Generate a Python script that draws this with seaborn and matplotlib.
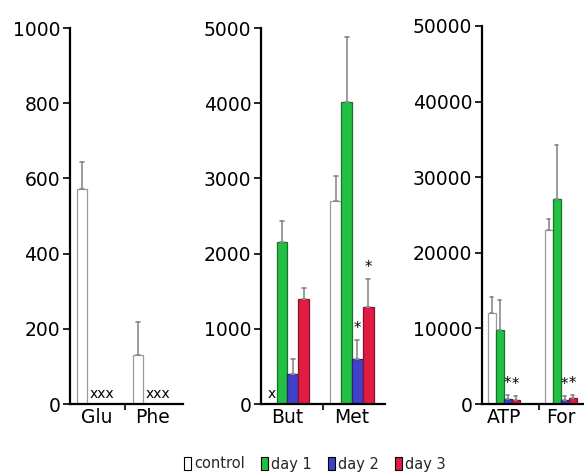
import numpy as np
import pandas as pd
import matplotlib
matplotlib.use("Agg")
import matplotlib.pyplot as plt
import seaborn as sns
from matplotlib.patches import Patch
from matplotlib.colors import to_rgb

sns.set_style("ticks")
plt.rcParams["font.family"] = ["DejaVu Sans"]

# ---------------- data ----------------
groups = ["control", "day 1", "day 2", "day 3"]
colors = ["#ffffff", "#22c043", "#4040c8", "#e01c44"]

cats_aa = ["Glu", "Phe"]
mean_aa = [[572, np.nan, np.nan, np.nan], [131, np.nan, np.nan, np.nan]]
upper_aa = [[643, np.nan, np.nan, np.nan], [217, np.nan, np.nan, np.nan]]

cats_bm = ["But", "Met"]
mean_bm = [[np.nan, 2157, 399, 1395], [2698, 4017, 602, 1289]]
upper_bm = [[np.nan, 2440, 598, 1541], [3038, 4885, 854, 1665]]

cats_af = ["ATP", "For"]
mean_af = [[12100, 9850, 700, 570], [22950, 27100, 550, 740]]
upper_af = [[14200, 13700, 1230, 1000], [24500, 34300, 1100, 1230]]

yticks_aa = [0, 200, 400, 600, 800, 1000]
yticks_bm = [0, 1000, 2000, 3000, 4000, 5000]
yticks_af = [0, 10000, 20000, 30000, 40000, 50000]

stars_bm = [("Met", "day 2"), ("Met", "day 3")]
stars_af = [("ATP", "day 2"), ("ATP", "day 3"), ("For", "day 2"), ("For", "day 3")]

palette = dict(zip(groups, colors))

# ---------------- layout (pixels) ----------------
W, H = 584, 475
fig = plt.figure(figsize=(W / 100, H / 100), dpi=100)

panels = [
    # cats, mean, upper, yticks, stars, left, width, top, xlim, tickpos, barwidth
    (cats_aa, mean_aa, upper_aa, yticks_aa, [], 70, 113, 28, (-0.48, 1.54), 0.5, 0.71),
    (cats_bm, mean_bm, upper_bm, yticks_bm, stars_bm, 261, 124, 28, (-0.41, 1.51), 0.55, 0.67),
    (cats_af, mean_af, upper_af, yticks_af, stars_af, 482, 114, 26, (-0.38, 1.62), 0.62, 0.56),
]
bottom_px = 404


def build_df(cats, mean, upper):
    rows = []
    for i, c in enumerate(cats):
        for j, g in enumerate(groups):
            m, u = mean[i][j], upper[i][j]
            if np.isnan(m):
                continue
            rows.append((c, g, m))
            rows.append((c, g, u))
    return pd.DataFrame(rows, columns=["compound", "group", "value"])


for cats, mean, upper, yticks, stars, left, width, top, xlim, tickpos, bw in panels:
    ax = fig.add_axes([left / W, 1 - bottom_px / H, width / W, (bottom_px - top) / H])
    df = build_df(cats, mean, upper)
    sns.barplot(
        data=df, x="compound", y="value", hue="group",
        order=cats, hue_order=groups, palette=palette, dodge=True,
        estimator="min", errorbar=lambda v: (v.min(), v.max()),
        width=bw, saturation=1, capsize=0.25,
        err_kws={"color": "#8a8a8a", "linewidth": 1.2},
        edgecolor="#999999", linewidth=0.9, legend=False, ax=ax,
    )
    # bar edges: gray for white, darker shade for colored
    bar_info = []
    for p in ax.patches:
        fc = to_rgb(p.get_facecolor())
        if min(fc) > 0.95:
            p.set_edgecolor("#9a9a9a")
        else:
            p.set_edgecolor(tuple(c * 0.6 for c in fc))
        xc = p.get_x() + p.get_width() / 2
        gi = int(np.argmin([np.sum((np.array(fc) - np.array(to_rgb(c))) ** 2) for c in colors]))
        bar_info.append((int(round(xc)), groups[gi], xc))

    ax.set_xlim(*xlim)
    ax.set_ylim(0, yticks[-1])
    ax.set_yticks(yticks)
    ax.set_yticklabels([str(t) for t in yticks])
    ax.set_xticks([tickpos])
    ax.set_xticklabels([""])
    ax.set_xticks(range(len(cats)), minor=True)
    ax.set_xticklabels(cats, minor=True)
    ax.tick_params(axis="x", which="minor", length=0, labelsize=13.5, pad=3, colors="black")
    ax.tick_params(axis="x", which="major", length=4, width=1.2, color="black")
    ax.tick_params(axis="y", length=5, width=1.2, labelsize=13.5, pad=2, colors="black")
    ax.set_xlabel("")
    ax.set_ylabel("")
    for s in ["top", "right"]:
        ax.spines[s].set_visible(False)
    for s in ["left", "bottom"]:
        ax.spines[s].set_linewidth(1.6)
        ax.spines[s].set_color("black")
    ax.patch.set_alpha(0)

    # not-detected markers
    for i, c in enumerate(cats):
        missing = [j for j in range(len(groups)) if np.isnan(mean[i][j])]
        if missing:
            xc = i + (np.mean(missing) - 1.5) * bw / len(groups)
            ax.annotate("x" * len(missing), (xc, 0), xytext=(0, 2.5),
                        textcoords="offset points", ha="center", va="bottom",
                        fontsize=10, color="black")

    # significance stars
    for c, g in stars:
        i, j = cats.index(c), groups.index(g)
        for ci, gg, xc in bar_info:
            if ci == i and gg == g:
                ax.annotate("*", (xc, upper[i][j]), xytext=(0, 3),
                            textcoords="offset points", ha="center", va="bottom",
                            fontsize=10.5, color="black")

handles = [Patch(facecolor=c, edgecolor="black", linewidth=0.8) for c in colors]
fig.legend(handles, groups, ncol=4, loc="center",
           bbox_to_anchor=(315 / W, 1 - 464 / H), frameon=False, fontsize=10.5,
           handlelength=0.5, handleheight=1.0, handletextpad=0.2, columnspacing=1.1)

fig.savefig("out.png", dpi=100)
